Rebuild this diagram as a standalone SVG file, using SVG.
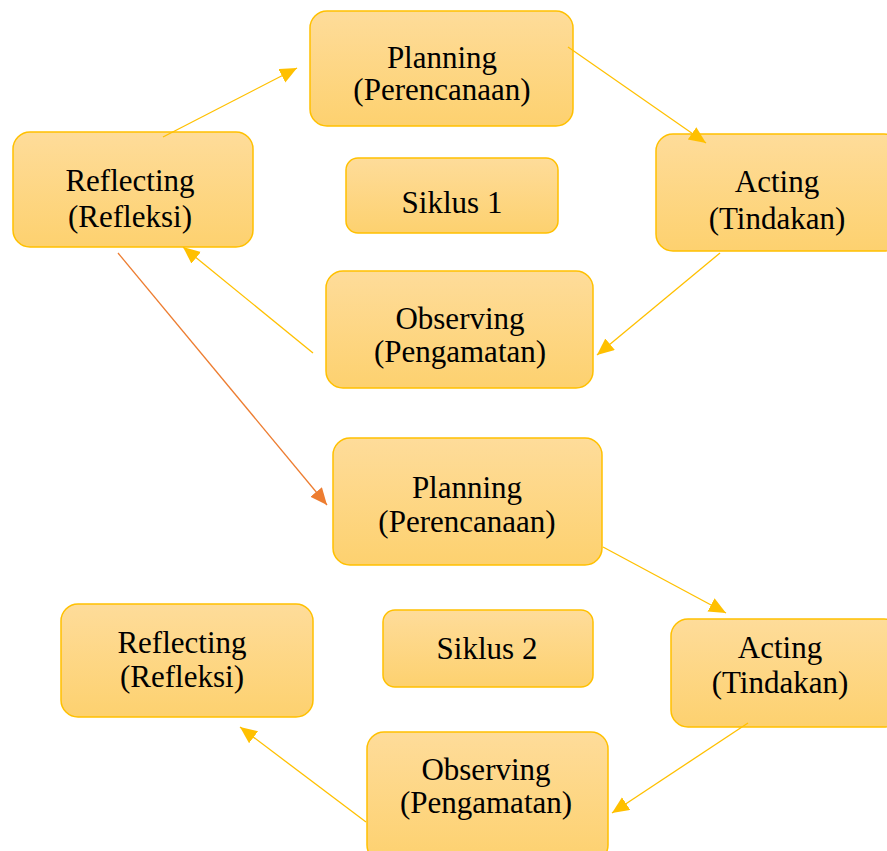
<svg xmlns="http://www.w3.org/2000/svg" width="887" height="851" viewBox="0 0 887 851">
<defs>
<linearGradient id="g" x1="0" y1="0" x2="0" y2="1">
<stop offset="0" stop-color="#FEDC9A"/>
<stop offset="1" stop-color="#FDD16F"/>
</linearGradient>
<marker id="ay" markerUnits="userSpaceOnUse" markerWidth="20" markerHeight="18" refX="17" refY="7.5" orient="auto">
<path d="M0,0 L17,7.5 L0,15 z" fill="#FFC000"/>
</marker>
<marker id="ao" markerUnits="userSpaceOnUse" markerWidth="20" markerHeight="18" refX="17" refY="7.5" orient="auto">
<path d="M0,0 L17,7.5 L0,15 z" fill="#ED7D31"/>
</marker>
</defs>
<style>
.box{fill:url(#g);stroke:#FFC000;stroke-width:1.5}
.t{font-family:"Liberation Serif","Times New Roman",serif;font-size:31px;fill:#000;text-anchor:middle}
.c{fill:none;stroke:#FFC000;stroke-width:1.3}
.o{fill:none;stroke:#ED7D31;stroke-width:1.3}
</style>
<rect width="887" height="851" fill="#fff"/>
<g id="planning1">
<rect class="box" x="310" y="11" width="263" height="115" rx="17"/>
<text class="t" x="442" y="68">Planning</text>
<text class="t" x="442" y="100">(Perencanaan)</text>
</g>
<g id="reflecting1">
<rect class="box" x="13" y="132" width="240" height="115" rx="17"/>
<text class="t" x="130" y="191">Reflecting</text>
<text class="t" x="130" y="227">(Refleksi)</text>
</g>
<g id="siklus1">
<rect class="box" x="346" y="158" width="212" height="75" rx="12"/>
<text class="t" x="452" y="213">Siklus 1</text>
</g>
<g id="acting1">
<rect class="box" x="656" y="134" width="245" height="117" rx="17"/>
<text class="t" x="777" y="192">Acting</text>
<text class="t" x="777" y="229">(Tindakan)</text>
</g>
<g id="observing1">
<rect class="box" x="326" y="271" width="267" height="117" rx="17"/>
<text class="t" x="460" y="329">Observing</text>
<text class="t" x="460" y="362">(Pengamatan)</text>
</g>
<g id="planning2">
<rect class="box" x="333" y="438" width="269" height="127" rx="17"/>
<text class="t" x="467" y="498">Planning</text>
<text class="t" x="467" y="532">(Perencanaan)</text>
</g>
<g id="siklus2">
<rect class="box" x="383" y="610" width="210" height="77" rx="12"/>
<text class="t" x="487" y="659">Siklus 2</text>
</g>
<g id="reflecting2">
<rect class="box" x="61" y="604" width="252" height="113" rx="17"/>
<text class="t" x="182" y="653">Reflecting</text>
<text class="t" x="182" y="687">(Refleksi)</text>
</g>
<g id="acting2">
<rect class="box" x="671" y="619" width="230" height="108" rx="17"/>
<text class="t" x="780" y="658">Acting</text>
<text class="t" x="780" y="693">(Tindakan)</text>
</g>
<g id="observing2">
<rect class="box" x="367" y="732" width="241" height="130" rx="17"/>
<text class="t" x="486" y="780">Observing</text>
<text class="t" x="486" y="813">(Pengamatan)</text>
</g>
<g id="connectors">
<line class="c" x1="163" y1="137" x2="297" y2="68" marker-end="url(#ay)"/>
<line class="c" x1="568" y1="47" x2="706" y2="143" marker-end="url(#ay)"/>
<line class="c" x1="720" y1="253" x2="597" y2="355" marker-end="url(#ay)"/>
<line class="c" x1="313" y1="353" x2="183" y2="247" marker-end="url(#ay)"/>
<line class="o" x1="118" y1="253" x2="327" y2="505" marker-end="url(#ao)"/>
<line class="c" x1="603" y1="547" x2="726" y2="613" marker-end="url(#ay)"/>
<line class="c" x1="748" y1="723" x2="612" y2="813" marker-end="url(#ay)"/>
<line class="c" x1="366" y1="822" x2="240" y2="727" marker-end="url(#ay)"/>
</g>
</svg>
